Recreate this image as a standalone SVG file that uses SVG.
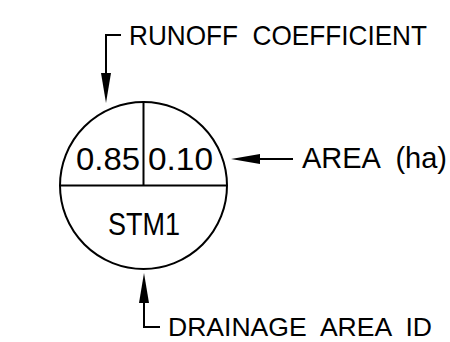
<svg xmlns="http://www.w3.org/2000/svg" width="450" height="342" viewBox="0 0 450 342" xml:space="preserve">
<defs>
<style>
.ln{fill:none;stroke:#000;stroke-width:2}
.t{font-family:"Liberation Sans",Arial,sans-serif;fill:#000;white-space:pre}
.ah{fill:#000;stroke:none}
</style>
</defs>
<rect width="450" height="342" fill="#fff"/>
<g id="node-circle">
<circle class="ln" cx="143.5" cy="185.5" r="83.5"/>
<line class="ln" x1="60" y1="185.5" x2="227" y2="185.5"/>
<line class="ln" x1="143.5" y1="102" x2="143.5" y2="185.5"/>
<text class="t" x="76" y="170" font-size="31" textLength="64" lengthAdjust="spacingAndGlyphs">0.85</text>
<text class="t" x="148" y="170" font-size="31" textLength="65" lengthAdjust="spacingAndGlyphs">0.10</text>
<text class="t" x="108" y="235" font-size="32" textLength="72" lengthAdjust="spacingAndGlyphs">STM1</text>
</g>
<g id="label-runoff">
<text class="t" x="129" y="45" font-size="28" textLength="298" lengthAdjust="spacingAndGlyphs">RUNOFF  COEFFICIENT</text>
</g>
<g id="label-area">
<text class="t" x="302" y="168" font-size="29" textLength="145" lengthAdjust="spacingAndGlyphs">AREA  (ha)</text>
</g>
<g id="label-id">
<text class="t" x="168" y="336" font-size="26.5" textLength="264" lengthAdjust="spacingAndGlyphs">DRAINAGE  AREA  ID</text>
</g>
<g id="connectors">
<polyline class="ln" points="121,35 106,35 106,75"/>
<polygon class="ah" points="101,73 111,73 106,103"/>
<line class="ln" x1="258" y1="159" x2="293" y2="159"/>
<polygon class="ah" points="231,159 260,154 260,164"/>
<polyline class="ln" points="160,327 144,327 144,300"/>
<polygon class="ah" points="144,273 139,303 149,303"/>
</g>
</svg>
